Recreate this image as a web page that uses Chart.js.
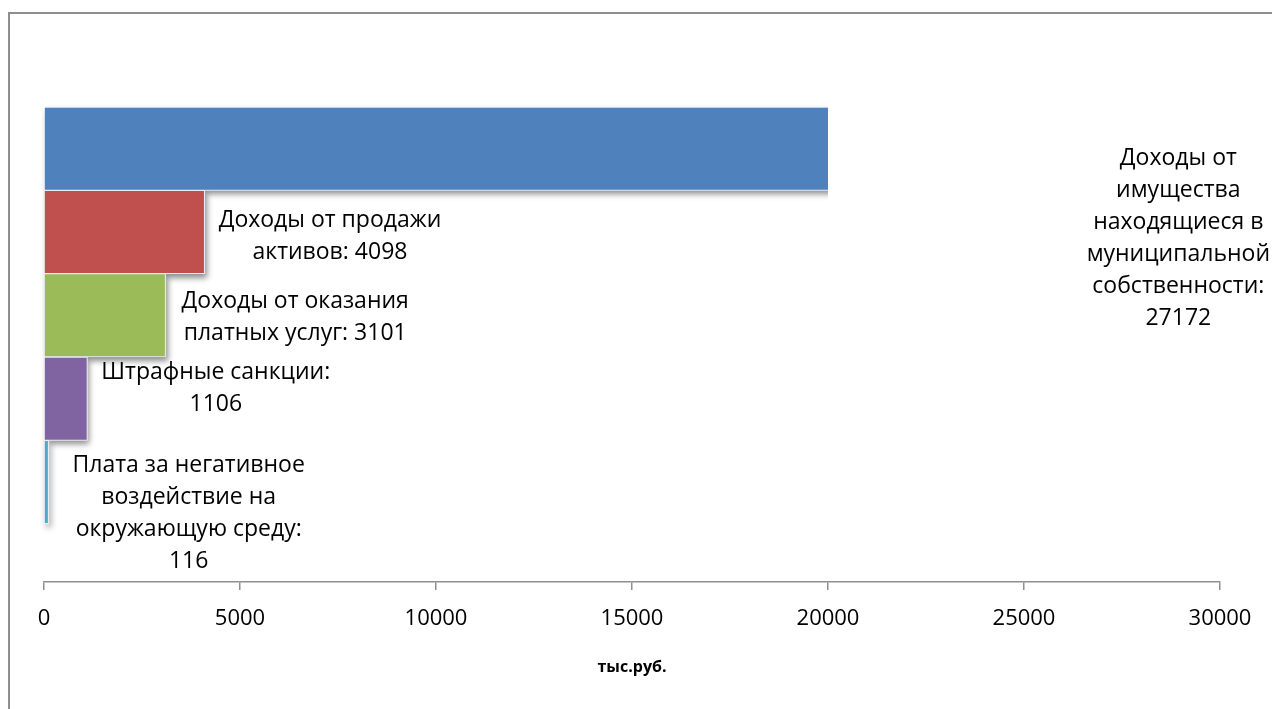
<!DOCTYPE html>
<html>
<head>
<meta charset="utf-8">
<script src="https://cdn.jsdelivr.net/npm/chart.js@4"></script>
<style>
    body { margin: 0; background: #fff; overflow: hidden; }
    #frame {
        position: absolute; left: 8px; top: 12px;
        width: 1400px; height: 800px;
        border: 2px solid #8e8e8e;
    }
    #grafico { position: absolute; left: 0; top: 0; }
</style>
</head>
<body>
<div id="frame"></div>
<canvas id="grafico" width="1272" height="709"></canvas>
<script>
// доходы по статьям, тыс.руб.
var categories = [
    "Доходы от имущества находящиеся в муниципальной собственности",
    "Доходы от продажи активов",
    "Доходы от оказания платных услуг",
    "Штрафные санкции",
    "Плата за негативное воздействие на окружающую среду"
];
var values = [27172, 4098, 3101, 1106, 116];
var colors = ["#4f81bd", "#c0504d", "#9bbb59", "#8064a2", "#4bacc6"];

// подписи, разбитые на строки (значение дописывается в последнюю строку)
var labelLines = [
    ["Доходы от", "имущества", "находящиеся в", "муниципальной", "собственности:", ""],
    ["Доходы от продажи", "активов: "],
    ["Доходы от оказания", "платных услуг: "],
    ["Штрафные санкции:", ""],
    ["Плата за негативное", "воздействие на", "окружающую среду:", ""]
];

var xMin = 0, xMax = 30000, xStep = 5000;
var axisBreakAt = 20000; // первый столбец обрезается на этой отметке

// сдвиг подписей относительно столбцов, px
var labelShiftX = [0, 0, 2, 0, 10];
var labelShiftY = [90, 4, 2, -10, 31];

var barDecor = {
    id: "barDecor",
    beforeDatasetsDraw: function (chart) {
        var ctx = chart.ctx;
        var area = chart.chartArea;
        var bars = chart.getDatasetMeta(0).data;
        var first = bars[0];
        var cut = chart.scales.x.getPixelForValue(axisBreakAt);
        ctx.save();
        // обрезка длинного столбца
        ctx.beginPath();
        ctx.rect(area.left - 5, area.top - 5, cut - area.left + 5, area.bottom - area.top + 10);
        ctx.rect(area.left - 5, first.y + first.height / 2 + 10, area.right - area.left + 60, area.bottom);
        ctx.clip();

        // тени под столбцами
        ctx.save();
        ctx.fillStyle = "#fff";
        ctx.shadowColor = "rgba(0,0,0,0.45)";
        ctx.shadowBlur = 6;
        ctx.shadowOffsetX = 2;
        ctx.shadowOffsetY = 4;
        for (var i = 0; i < bars.length; i++) {
            var b = bars[i];
            ctx.fillRect(b.base, b.y - b.height / 2, b.x - b.base, b.height);
        }
        ctx.restore();
    },
    afterDatasetsDraw: function (chart) {
        var ctx = chart.ctx;
        ctx.restore();

        var bars = chart.getDatasetMeta(0).data;
        var rightLimit = chart.width - 2;
        ctx.save();
        ctx.font = "23px 'Open Sans'";
        ctx.fillStyle = "#000";
        ctx.textAlign = "center";
        ctx.textBaseline = "middle";
        for (var i = 0; i < bars.length; i++) {
            var lines = labelLines[i].slice();
            lines[lines.length - 1] += values[i];
            var w = 0;
            for (var k = 0; k < lines.length; k++) {
                w = Math.max(w, ctx.measureText(lines[k]).width);
            }
            var left = bars[i].x + 14 + labelShiftX[i];
            if (left + w > rightLimit) left = rightLimit - w;
            var cx = left + w / 2;
            var lh = 32;
            var cy = bars[i].y + labelShiftY[i];
            var y0 = cy - (lines.length - 1) * lh / 2;
            for (var k = 0; k < lines.length; k++) {
                ctx.fillText(lines[k], cx, y0 + k * lh);
            }
        }
        ctx.restore();
    }
};

var punti = [];
for (var i = 0; i < values.length; i++) {
    punti.push({ x: values[i], y: i });
}

var ctx = document.getElementById("grafico");
var chart = new Chart(ctx, {
    type: "bar",
    data: {
        labels: categories,
        datasets: [{
            data: punti,
            backgroundColor: colors,
            borderColor: "rgba(232,238,246,0.95)",
            borderWidth: 1,
            barPercentage: 1,
            categoryPercentage: 1
        }]
    },
    options: {
        indexAxis: "y",
        responsive: false,
        devicePixelRatio: 1,
        animation: false,
        layout: { padding: { left: 44, right: 52, top: 107, bottom: 0 } },
        plugins: {
            legend: { display: false },
            tooltip: { enabled: false }
        },
        scales: {
            x: {
                type: "linear",
                min: xMin,
                max: xMax,
                ticks: {
                    stepSize: xStep,
                    color: "#000",
                    padding: 16,
                    font: { family: "'Open Sans'", size: 22 },
                    callback: function (v) { return String(v); }
                },
                grid: {
                    display: true,
                    drawOnChartArea: false,
                    drawTicks: true,
                    tickLength: 8,
                    color: "#8f8f8f",
                    lineWidth: 1.5
                },
                border: { display: true, color: "#8f8f8f", width: 1.5 },
                title: {
                    display: true,
                    text: "тыс.руб.",
                    color: "#000",
                    font: { family: "'Open Sans'", size: 16, weight: "bold" },
                    padding: { top: 4, bottom: 32 }
                },
                afterFit: function (scale) {
                    scale.height = 127;
                }
            },
            y: {
                type: "linear",
                display: false,
                reverse: true,
                offset: false,
                grid: { offset: false },
                min: -0.5,
                max: 5.2,
                ticks: { stepSize: 1, includeBounds: false }
            }
        }
    },
    plugins: [barDecor]
});
</script>
</body>
</html>
